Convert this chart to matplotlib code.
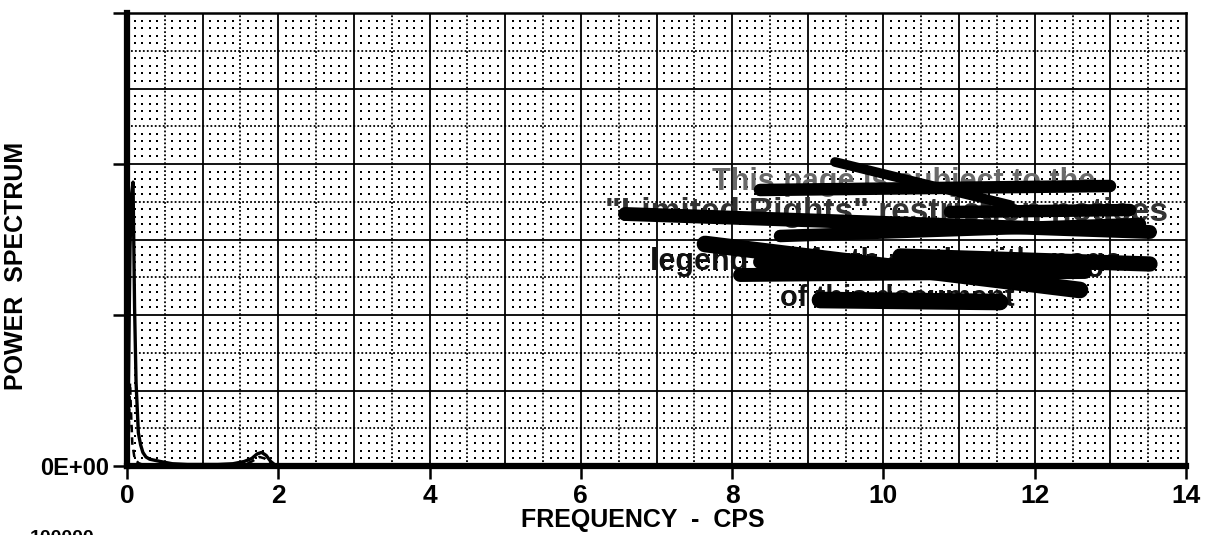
import numpy as np
import matplotlib.pyplot as plt

# power spectrum (frequency in cps)
freq = [0.0, 0.02, 0.04, 0.06, 0.08, 0.10, 0.12, 0.15, 0.18, 0.21, 0.25, 0.30,
        0.44, 0.60, 0.80, 1.00, 1.20, 1.40, 1.55, 1.65, 1.72, 1.78, 1.84, 1.90,
        1.96, 2.10, 3.0, 5.0, 8.0, 11.0, 14.0]
power = [0.02, 0.60, 1.45, 1.80, 1.88, 1.05, 0.55, 0.22, 0.14, 0.09, 0.06, 0.045,
         0.03, 0.015, 0.01, 0.01, 0.01, 0.015, 0.03, 0.05, 0.08, 0.09, 0.07, 0.03,
         0.005, 0.0, 0.0, 0.0, 0.0, 0.0, 0.0]

freq2 = [0.0, 0.01, 0.02, 0.03, 0.04, 0.05, 0.07, 0.10, 0.15, 0.25, 1.50, 1.65,
         1.75, 1.82, 1.90, 2.0, 14.0]
power2 = [0.0, 0.05, 0.15, 0.35, 0.55, 0.40, 0.15, 0.05, 0.02, 0.0, 0.0, 0.03,
          0.06, 0.05, 0.01, 0.0, 0.0]

xticks = [0, 2, 4, 6, 8, 10, 12, 14]
yticks = [0, 1, 2, 3]
ytick_labels = ["0E+00", "", "", ""]

# legend-restriction stamp and marker strokes over it (pixel positions on the scan)
stamp_lines = [("This page is subject to the", 712, 182, 22, "#6a6a6a"),
               ('"Limited Rights" restriction notices', 605, 213, 24, "#333333"),
               ("legend set forth on the title page", 650, 262, 22, "#111111"),
               ("of this document", 780, 298, 21, "#111111")]
strokes = [((760, 190), (1110, 186), 9), ((835, 162), (1010, 205), 7),
           ((625, 214), (1150, 232), 10), ((780, 236), (1140, 224), 9),
           ((705, 244), (1080, 290), 12), ((740, 275), (1085, 272), 10),
           ((900, 256), (1150, 264), 11), ((820, 300), (1000, 302), 12),
           ((950, 212), (1130, 210), 9), ((760, 262), (1000, 268), 10)]

plt.rcParams["font.family"] = ["Liberation Sans", "DejaVu Sans"]

fig = plt.figure(figsize=(12.07, 5.35), dpi=100)
ax = fig.add_axes([127 / 1207, 1 - 466 / 535, (1186 - 127) / 1207, (466 - 13) / 535])
ax.set_xlim(0, 14)
ax.set_ylim(0, 3)

# graph-paper grid: solid, dotted, then dots
for x in np.arange(1, 14, 1.0):
    ax.axvline(x, color="black", lw=1.3, zorder=1)
for y in np.arange(0.5, 3, 0.5):
    ax.axhline(y, color="black", lw=1.3, zorder=1)
for x in np.arange(0.5, 14, 1.0):
    ax.axvline(x, color="black", lw=1.3, ls=(0, (1, 1.2)), zorder=1)
for y in np.arange(0.25, 3, 0.5):
    ax.axhline(y, color="black", lw=1.3, ls=(0, (1, 1.2)), zorder=1)
gx = np.arange(0.1, 14, 0.1)
gy = np.arange(0.05, 3, 0.05)
GX, GY = np.meshgrid(gx, gy)
keep = (np.abs(GX * 2 - np.round(GX * 2)) > 0.01) & (np.abs(GY * 4 - np.round(GY * 4)) > 0.01)
ax.scatter(GX[keep], GY[keep], s=3, marker="s", color="black", lw=0, zorder=1)

ax.plot(freq, power, color="black", lw=2.4, zorder=3)
ax.plot(freq2, power2, color="black", lw=1.8, ls=(0, (3, 2)), zorder=3)

for side in ["left", "bottom"]:
    ax.spines[side].set_linewidth(4.5)
for side in ["top", "right"]:
    ax.spines[side].set_linewidth(1.8)

ax.set_xticks(xticks)
ax.set_yticks(yticks)
ax.set_yticklabels(ytick_labels)
ax.tick_params(axis="x", direction="out", length=9, width=1.8, pad=4, labelsize=19)
ax.tick_params(axis="y", direction="out", length=10, width=1.8, pad=3, labelsize=17)
for lab in ax.get_xticklabels() + ax.get_yticklabels():
    lab.set_fontweight("bold")

ax.set_xlabel("FREQUENCY  -  CPS", fontsize=18, fontweight="bold")
ax.xaxis.set_label_coords((643 - 127) / 1059, (466 - 508) / 453)
ax.set_ylabel("POWER  SPECTRUM", fontsize=18, fontweight="bold")
ax.yaxis.set_label_coords((28 - 127) / 1059, (466 - 266) / 453)

for text, px, py, size, col in stamp_lines:
    fig.text(px / 1207, 1 - py / 535, text, ha="left", va="center",
             fontsize=size, fontweight="bold", color=col, zorder=5)
for (x0, y0), (x1, y1), w in strokes:
    fig.add_artist(plt.Line2D([x0 / 1207, x1 / 1207], [1 - y0 / 535, 1 - y1 / 535],
                              color="black", lw=w, solid_capstyle="round", zorder=6))

fig.text(30 / 1207, -12 / 535, "100000", fontsize=14, fontweight="bold",
         ha="left", va="bottom")

fig.savefig("out.png", dpi=100)
